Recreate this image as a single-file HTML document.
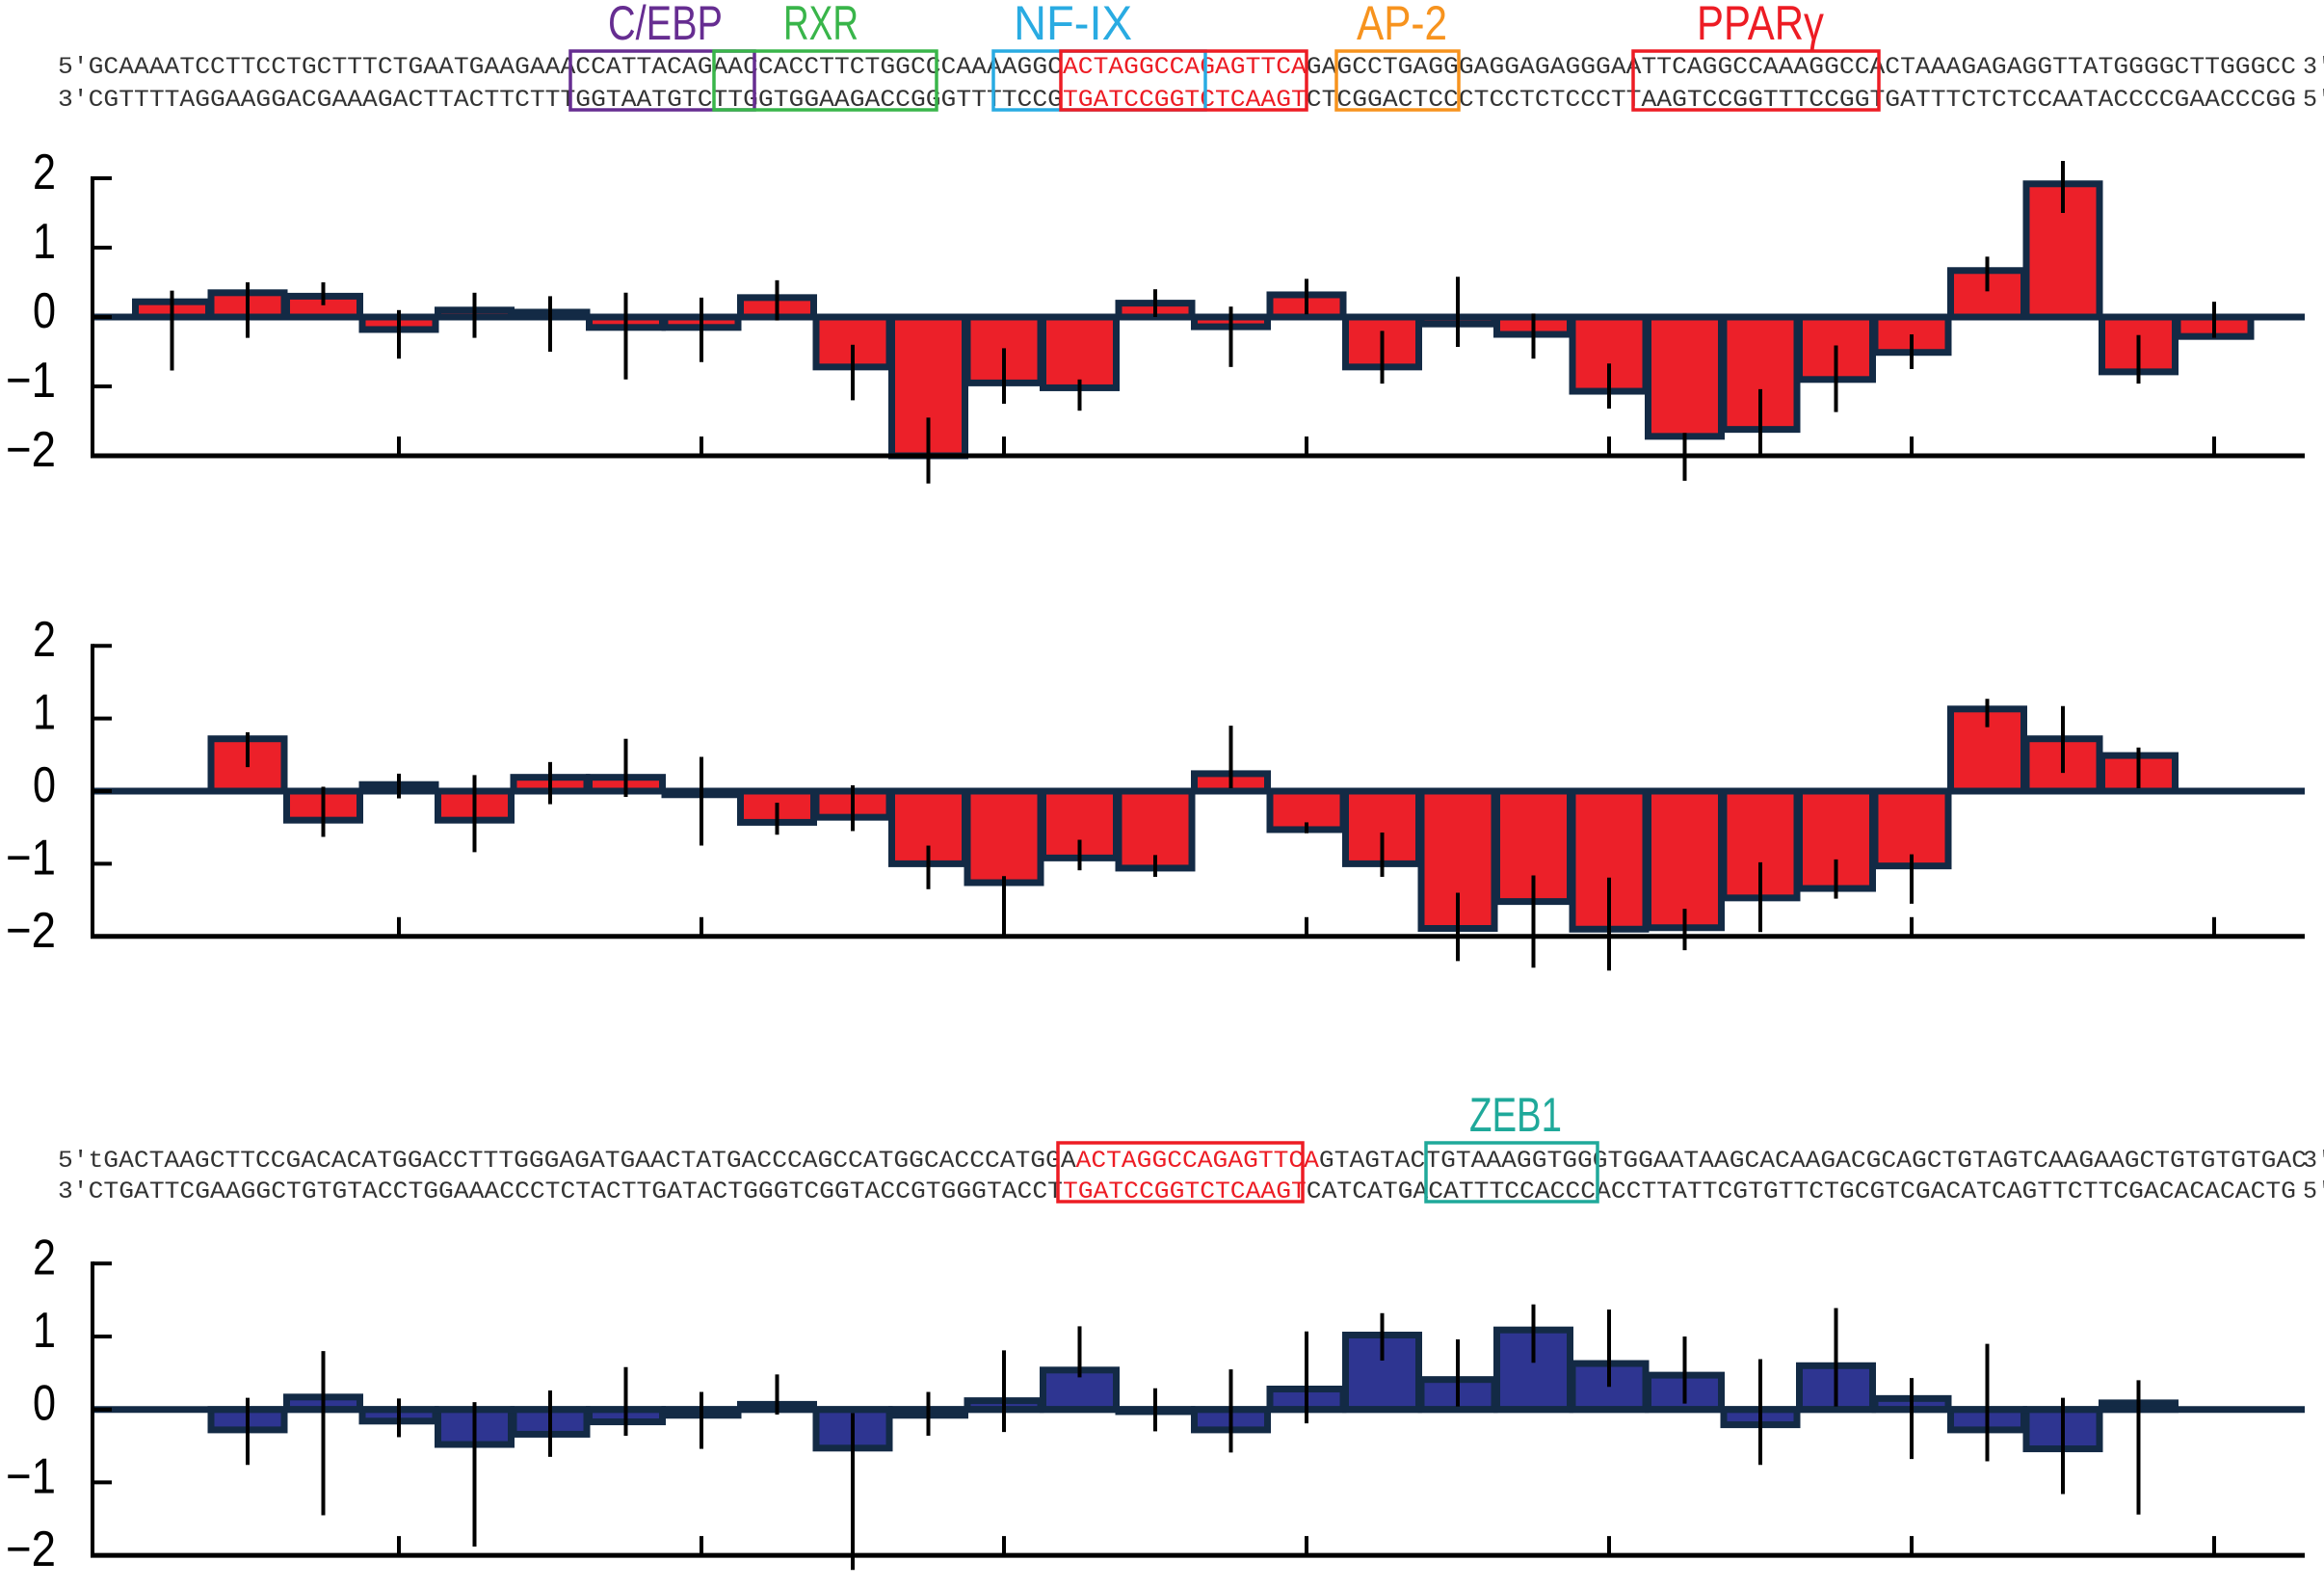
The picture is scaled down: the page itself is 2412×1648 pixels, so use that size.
<!DOCTYPE html>
<html><head><meta charset="utf-8">
<style>
html,body{margin:0;padding:0;background:#fff;}
svg{display:block;}
.seq{font-family:"Liberation Mono",monospace;font-size:25px;fill:#333;}
.tf{font-family:"Liberation Sans",sans-serif;font-size:50px;}
.tick{font-family:"Liberation Sans",sans-serif;font-size:52px;fill:#000;}
</style></head>
<body>
<svg id="fig" width="2412" height="1648" viewBox="0 0 2412 1648" xmlns="http://www.w3.org/2000/svg">
<g>
<text class="seq" x="60" y="76" textLength="2323" lengthAdjust="spacingAndGlyphs">5′GCAAAATCCTTCCTGCTTTCTGAATGAAGAAACCATTACAGAACCACCTTCTGGCCCAAAAGGC<tspan fill="#ed1c24">ACTAGGCCAGAGTTCA</tspan>GAGCCTGAGGGAGGAGAGGGAATTCAGGCCAAAGGCCACTAAAGAGAGGTTATGGGGCTTGGGCC</text>
<text class="seq" x="2390" y="76">3′</text>
<text class="seq" x="60" y="110" textLength="2323" lengthAdjust="spacingAndGlyphs">3′CGTTTTAGGAAGGACGAAAGACTTACTTCTTTGGTAATGTCTTGGTGGAAGACCGGGTTTTCCG<tspan fill="#ed1c24">TGATCCGGTCTCAAGT</tspan>CTCGGACTCCCTCCTCTCCCTTAAGTCCGGTTTCCGGTGATTTCTCTCCAATACCCCGAACCCGG</text>
<text class="seq" x="2390" y="110">5′</text>
<rect x="592" y="53" width="191" height="61" fill="none" stroke="#662d91" stroke-width="3.5"/>
<rect x="741" y="53" width="231" height="61" fill="none" stroke="#39b54a" stroke-width="3.5"/>
<rect x="1031" y="53" width="220" height="61" fill="none" stroke="#29abe2" stroke-width="3.5"/>
<rect x="1101" y="53" width="255" height="61" fill="none" stroke="#ed1c24" stroke-width="3.5"/>
<rect x="1387" y="53" width="127" height="61" fill="none" stroke="#f7931e" stroke-width="3.5"/>
<rect x="1695" y="53" width="255" height="61" fill="none" stroke="#ed1c24" stroke-width="3.5"/>
<text class="tf" x="631" y="41" fill="#662d91" textLength="119" lengthAdjust="spacingAndGlyphs">C/EBP</text>
<text class="tf" x="813" y="41" fill="#39b54a" textLength="78" lengthAdjust="spacingAndGlyphs">RXR</text>
<text class="tf" x="1052" y="41" fill="#29abe2" textLength="123" lengthAdjust="spacingAndGlyphs">NF-IX</text>
<text class="tf" x="1408" y="41" fill="#f7931e" textLength="94" lengthAdjust="spacingAndGlyphs">AP-2</text>
<text class="tf" x="1761" y="41" fill="#ed1c24" textLength="132" lengthAdjust="spacingAndGlyphs">PPARγ</text>
</g>
<g>
<text class="seq" x="60" y="1211" textLength="2334" lengthAdjust="spacingAndGlyphs">5′tGACTAAGCTTCCGACACATGGACCTTTGGGAGATGAACTATGACCCAGCCATGGCACCCATGGA<tspan fill="#ed1c24">ACTAGGCCAGAGTTCA</tspan>GTAGTACTGTAAAGGTGGGTGGAATAAGCACAAGACGCAGCTGTAGTCAAGAAGCTGTGTGTGAC</text>
<text class="seq" x="2390" y="1211">3′</text>
<text class="seq" x="60" y="1243" textLength="2323" lengthAdjust="spacingAndGlyphs">3′CTGATTCGAAGGCTGTGTACCTGGAAACCCTCTACTTGATACTGGGTCGGTACCGTGGGTACCT<tspan fill="#ed1c24">TGATCCGGTCTCAAGT</tspan>CATCATGACATTTCCACCCACCTTATTCGTGTTCTGCGTCGACATCAGTTCTTCGACACACACTG</text>
<text class="seq" x="2390" y="1243">5′</text>
<rect x="1098" y="1186" width="254" height="61" fill="none" stroke="#ed1c24" stroke-width="3.5"/>
<rect x="1480" y="1186" width="178" height="61" fill="none" stroke="#1fa99a" stroke-width="3.5"/>
<text class="tf" x="1525" y="1174" fill="#1fa99a" textLength="96" lengthAdjust="spacingAndGlyphs">ZEB1</text>
</g>
</svg>
<script>
// Chart 1 (red, top)
const c1Values = [0.22,0.35,0.3,-0.18,0.1,0.07,-0.15,-0.15,0.28,-0.72,-2.0,-0.95,-1.02,0.2,-0.14,0.32,-0.72,-0.1,-0.25,-1.07,-1.72,-1.62,-0.9,-0.51,0.67,1.92,-0.79,-0.28];
const c1ErrHigh = [0.38,0.5,0.5,0.1,0.35,0.3,0.35,0.28,0.53,-0.4,-1.45,-0.45,-0.9,0.4,0.15,0.55,-0.2,0.58,0.05,-0.67,-1.67,-1.04,-0.41,-0.25,0.87,2.25,-0.26,0.22];
const c1ErrLow = [-0.77,-0.3,0.17,-0.6,-0.3,-0.5,-0.9,-0.65,-0.05,-1.2,-2.4,-1.25,-1.35,0,-0.72,0.04,-0.96,-0.43,-0.6,-1.32,-2.36,-2.0,-1.37,-0.75,0.37,1.5,-0.96,-0.3];
// Chart 2 (red, middle)
const c2Values = [0,0.72,-0.4,0.09,-0.4,0.19,0.19,-0.05,-0.43,-0.36,-1.0,-1.26,-0.92,-1.06,0.24,-0.53,-1.0,-1.89,-1.52,-1.9,-1.88,-1.47,-1.34,-1.03,1.13,0.72,0.49,0];
const c2ErrHigh = [null,0.81,0.06,0.24,0.22,0.4,0.72,0.47,-0.16,0.08,-0.75,-1.17,-0.67,-0.88,0.9,-0.43,-0.57,-1.4,-1.16,-1.19,-1.62,-0.98,-0.94,-0.87,1.27,1.17,0.6,null];
const c2ErrLow = [null,0.33,-0.63,-0.1,-0.84,-0.18,-0.08,-0.75,-0.6,-0.55,-1.35,-2.0,-1.09,-1.18,0.04,-0.58,-1.18,-2.34,-2.43,-2.47,-2.19,-1.94,-1.48,-1.55,0.88,0.25,0.04,null];
// Chart 3 (blue, bottom)
const c3Values = [0,-0.28,0.17,-0.16,-0.48,-0.34,-0.17,-0.08,0.07,-0.53,-0.08,0.12,0.54,-0.03,-0.28,0.28,1.02,0.41,1.09,0.63,0.47,-0.21,0.6,0.15,-0.28,-0.54,0.09,0];
const c3ErrHigh = [null,0.16,0.8,0.15,0.1,0.26,0.58,0.24,0.48,-0.05,0.24,0.81,1.14,0.29,0.55,1.07,1.32,0.96,1.44,1.37,1.0,0.69,1.39,0.43,0.9,0.16,0.4,null];
const c3ErrLow = [null,-0.76,-1.45,-0.38,-1.88,-0.65,-0.36,-0.54,-0.07,-2.2,-0.36,-0.31,0.44,-0.3,-0.59,-0.19,0.67,0.04,0.64,0.31,0.08,-0.76,0.04,-0.68,-0.71,-1.16,-1.44,null];
const yTicks = [2,1,0,-1,-2];
const yTickLabels = ["2","1","0","\u22121","\u22122"];

const NS = "http://www.w3.org/2000/svg";
const svg = document.getElementById("fig");
const NAVY = "#132a45";
function mk(tag, attrs, parent){
  const e = document.createElementNS(NS, tag);
  for (const k in attrs) e.setAttribute(k, attrs[k]);
  parent.appendChild(e);
  return e;
}
const X0 = 178.5, PITCH = 78.5, AXIS_X = 96, AXIS_END = 2392;
function xScale(i){ return X0 + PITCH * i; }

function drawChart(name, values, hi, lo, yZero, unit, fill){
  const yScale = v => yZero - v * unit;
  const g = mk("g", {}, svg);
  
  
  values.forEach((v, i) => {
    if (v === 0) return;
    const cx = xScale(i);
    const y1 = Math.min(yScale(v), yScale(0)), y2 = Math.max(yScale(v), yScale(0));
    const r = mk("rect", {x: cx - 38, y: y1, width: 76, height: y2 - y1, fill: fill, stroke: NAVY, "stroke-width": 7}, g);
    
    
  });
  const zl = mk("line", {x1: AXIS_X, x2: AXIS_END, y1: yScale(0), y2: yScale(0), stroke: NAVY, "stroke-width": 7}, g);
  
  
  const ya = mk("line", {x1: AXIS_X, x2: AXIS_X, y1: yScale(2) - 2, y2: yScale(-2) + 2, stroke: "#000", "stroke-width": 4}, g);
  
  
  yTicks.forEach((t, k) => {
    const tl = mk("line", {x1: AXIS_X, x2: AXIS_X + 20, y1: yScale(t), y2: yScale(t), stroke: "#000", "stroke-width": 4}, g);
    
    
    const tx = mk("text", {x: 58, y: yScale(t) + 11, "text-anchor": "end", class: "tick", textLength: yTickLabels[k].length > 1 ? 52 : 24, lengthAdjust: "spacingAndGlyphs"}, g);
    tx.textContent = yTickLabels[k];
    
    
  });
  const xa = mk("line", {x1: AXIS_X - 2, x2: AXIS_END, y1: yScale(-2), y2: yScale(-2), stroke: "#000", "stroke-width": 5}, g);
  
  
  for (let i = 3; i < values.length; i += 4) {
    const xt = mk("line", {x1: xScale(i), x2: xScale(i), y1: yScale(-2), y2: yScale(-2) - 20, stroke: "#000", "stroke-width": 4}, g);
    
    
  }
  values.forEach((v, i) => {
    if (hi[i] === null || lo[i] === null) return;
    const eb = mk("line", {x1: xScale(i), x2: xScale(i), y1: yScale(hi[i]), y2: yScale(lo[i]), stroke: "#000", "stroke-width": 4}, g);
    
    
  });
}
drawChart("chart-top", c1Values, c1ErrHigh, c1ErrLow, 329, 72, "#ec2029");
drawChart("chart-middle", c2Values, c2ErrHigh, c2ErrLow, 821, 75.4, "#ec2029");
drawChart("chart-bottom", c3Values, c3ErrHigh, c3ErrLow, 1462.7, 75.7, "#2e3591");
</script>
</body></html>
